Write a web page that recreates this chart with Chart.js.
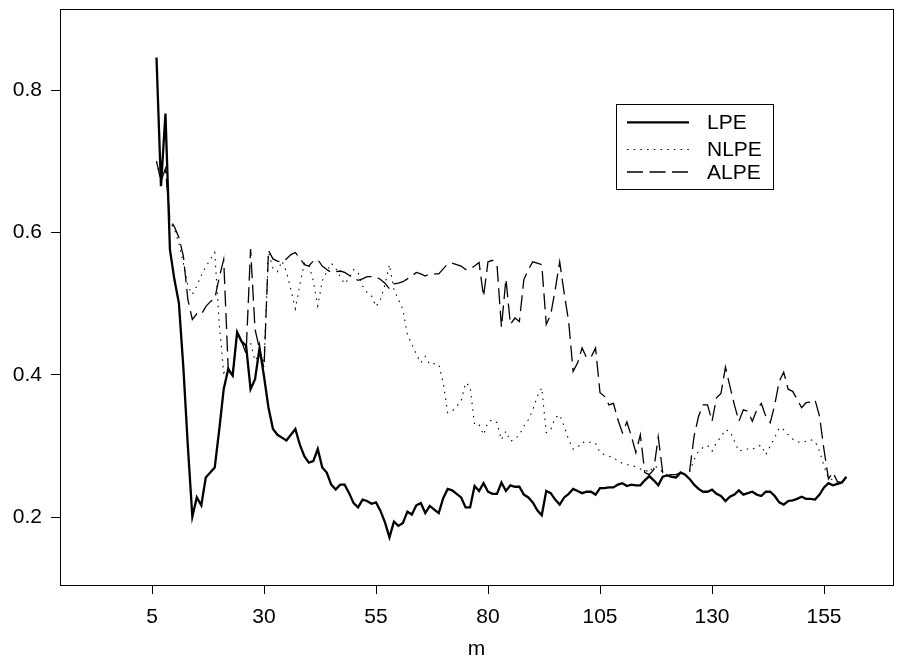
<!DOCTYPE html>
<html>
<head>
<meta charset="utf-8">
<title>LPE / NLPE / ALPE against m</title>
<script src="https://cdn.jsdelivr.net/npm/chart.js@4.4.0/dist/chart.umd.min.js"></script>
<style>
    html, body { margin: 0; padding: 0; background: #fff; }
    #wrap { width: 907px; height: 662px; }
</style>
</head>
<body>
<div id="wrap"><canvas id="errorChart" width="907" height="662"></canvas></div>
<script>
// ============================================================
//  Data
// ============================================================

const mValues = [
      6,   7,   8,   9,  10,  11,  12,  13,  14,  15,  16,  17,  18,  19,  20,  21,  22,  23,  24,  25,  26,  27,  28,  29,  30,
     31,  32,  33,  34,  35,  36,  37,  38,  39,  40,  41,  42,  43,  44,  45,  46,  47,  48,  49,  50,  51,  52,  53,  54,  55,
     56,  57,  58,  59,  60,  61,  62,  63,  64,  65,  66,  67,  68,  69,  70,  71,  72,  73,  74,  75,  76,  77,  78,  79,  80,
     81,  82,  83,  84,  85,  86,  87,  88,  89,  90,  91,  92,  93,  94,  95,  96,  97,  98,  99, 100, 101, 102, 103, 104, 105,
    106, 107, 108, 109, 110, 111, 112, 113, 114, 115, 116, 117, 118, 119, 120, 121, 122, 123, 124, 125, 126, 127, 128, 129, 130,
    131, 132, 133, 134, 135, 136, 137, 138, 139, 140, 141, 142, 143, 144, 145, 146, 147, 148, 149, 150, 151, 152, 153, 154, 155,
    156, 157, 158, 159, 160
];

const lpeValues = [
    0.846, 0.665, 0.767, 0.576, 0.534, 0.501, 0.410, 0.300, 0.201, 0.228,   // m 6-15
    0.217, 0.256, 0.263, 0.270, 0.323, 0.380, 0.408, 0.399, 0.460, 0.447,   // 16-25
    0.441, 0.380, 0.394, 0.438, 0.398, 0.354, 0.324, 0.316, 0.312, 0.308,   // 26-35
    0.316, 0.324, 0.302, 0.286, 0.277, 0.279, 0.296, 0.270, 0.263, 0.246,   // 36-45
    0.239, 0.246, 0.246, 0.234, 0.220, 0.214, 0.225, 0.223, 0.219, 0.221,   // 46-55
    0.209, 0.193, 0.172, 0.194, 0.188, 0.192, 0.208, 0.204, 0.217, 0.220,   // 56-65
    0.206, 0.216, 0.211, 0.206, 0.227, 0.240, 0.238, 0.233, 0.228, 0.214,   // 66-75
    0.214, 0.244, 0.237, 0.248, 0.236, 0.233, 0.233, 0.249, 0.237, 0.245,   // 76-85
    0.243, 0.243, 0.232, 0.228, 0.221, 0.210, 0.203, 0.237, 0.234, 0.225,   // 86-95
    0.218, 0.228, 0.233, 0.240, 0.237, 0.234, 0.236, 0.236, 0.232, 0.241,   // 96-105
    0.241, 0.242, 0.242, 0.246, 0.248, 0.244, 0.246, 0.245, 0.245, 0.252,   // 106-115
    0.258, 0.252, 0.245, 0.257, 0.259, 0.257, 0.256, 0.263, 0.260, 0.254,   // 116-125
    0.246, 0.240, 0.236, 0.236, 0.239, 0.233, 0.230, 0.223, 0.229, 0.232,   // 126-135
    0.238, 0.232, 0.234, 0.236, 0.232, 0.230, 0.236, 0.236, 0.230, 0.221,   // 136-145
    0.218, 0.223, 0.224, 0.226, 0.229, 0.226, 0.226, 0.225, 0.232, 0.242,   // 146-155
    0.248, 0.245, 0.247, 0.249, 0.257                                       // 156-160
];

const nlpeValues = [
    0.700, 0.675, 0.690, 0.615, 0.605, 0.585, 0.557, 0.525, 0.513, 0.525,
    0.540, 0.552, 0.562, 0.572, 0.473, 0.403, 0.410, 0.400, 0.460, 0.447,
    0.441, 0.445, 0.420, 0.430, 0.418, 0.572, 0.550, 0.545, 0.560, 0.545,
    0.520, 0.493, 0.527, 0.557, 0.555, 0.532, 0.497, 0.532, 0.545, 0.557,
    0.550, 0.538, 0.528, 0.536, 0.548, 0.544, 0.525, 0.516, 0.511, 0.496,
    0.506, 0.527, 0.555, 0.520, 0.506, 0.492, 0.457, 0.443, 0.429, 0.417,
    0.426, 0.415, 0.416, 0.415, 0.389, 0.347, 0.349, 0.356, 0.363, 0.389,
    0.384, 0.330, 0.330, 0.316, 0.334, 0.337, 0.333, 0.309, 0.321, 0.307,
    0.310, 0.316, 0.328, 0.337, 0.351, 0.370, 0.382, 0.319, 0.323, 0.340,
    0.344, 0.328, 0.309, 0.296, 0.298, 0.306, 0.304, 0.306, 0.304, 0.291,
    0.288, 0.286, 0.284, 0.279, 0.276, 0.274, 0.273, 0.271, 0.268, 0.267,
    0.263, 0.272, 0.270, 0.263, 0.260, 0.258, 0.257, 0.263, 0.260, 0.264,
    0.281, 0.293, 0.298, 0.301, 0.293, 0.305, 0.313, 0.323, 0.321, 0.307,
    0.293, 0.295, 0.296, 0.295, 0.300, 0.301, 0.288, 0.300, 0.312, 0.326,
    0.323, 0.316, 0.310, 0.306, 0.305, 0.307, 0.309, 0.307, 0.293, 0.272,
    0.254, 0.253, 0.248, 0.249, 0.257
];

const alpeValues = [
    0.700, 0.672, 0.690, 0.618, 0.608, 0.593, 0.567, 0.506, 0.478, 0.486,
    0.485, 0.496, 0.503, 0.507, 0.537, 0.562, 0.410, 0.400, 0.460, 0.447,
    0.430, 0.577, 0.464, 0.436, 0.410, 0.575, 0.563, 0.560, 0.559, 0.563,
    0.569, 0.572, 0.564, 0.555, 0.553, 0.560, 0.562, 0.553, 0.548, 0.544,
    0.545, 0.546, 0.544, 0.540, 0.536, 0.533, 0.535, 0.538, 0.538, 0.538,
    0.534, 0.529, 0.521, 0.528, 0.529, 0.531, 0.535, 0.539, 0.544, 0.542,
    0.539, 0.542, 0.542, 0.542, 0.549, 0.556, 0.557, 0.555, 0.553, 0.548,
    0.549, 0.553, 0.558, 0.510, 0.559, 0.561, 0.555, 0.467, 0.535, 0.471,
    0.480, 0.475, 0.534, 0.548, 0.559, 0.557, 0.555, 0.471, 0.485, 0.520,
    0.559, 0.515, 0.475, 0.405, 0.417, 0.438, 0.424, 0.425, 0.438, 0.375,
    0.370, 0.358, 0.360, 0.337, 0.319, 0.334, 0.314, 0.291, 0.316, 0.263,
    0.260, 0.267, 0.313, 0.263, 0.260, 0.260, 0.260, 0.263, 0.260, 0.265,
    0.314, 0.342, 0.358, 0.358, 0.335, 0.368, 0.374, 0.411, 0.384, 0.358,
    0.335, 0.351, 0.349, 0.335, 0.351, 0.360, 0.342, 0.333, 0.358, 0.391,
    0.404, 0.380, 0.377, 0.366, 0.354, 0.361, 0.362, 0.365, 0.342, 0.295,
    0.254, 0.263, 0.250, 0.249, 0.257
];

const seriesNames = ['LPE', 'NLPE', 'ALPE'];
const xTickValues = [5, 30, 55, 80, 105, 130, 155];
const yTickValues = [0.2, 0.4, 0.6, 0.8];

// ============================================================
//  Chart
// ============================================================

const FONT = '"Liberation Sans", Arial, Helvetica, sans-serif';

const toPoints = (vals) => mValues.map((m, i) => ({ x: m, y: vals[i] }));

// no extra room for half tick labels: the plot box sits where R puts it
const noScalePadding = (axis) => {
    axis.paddingTop = 0;
    axis.paddingBottom = 0;
    axis.paddingLeft = 0;
    axis.paddingRight = 0;
};

// box round the plot region + R-style legend in the top right
const boxAndLegend = {
    id: 'boxAndLegend',
    afterDraw(chart) {
        const { ctx, chartArea: a } = chart;
        ctx.save();
        ctx.strokeStyle = '#000';
        ctx.lineWidth = 1;
        ctx.strokeRect(Math.round(a.left) + 0.5, Math.round(a.top) + 0.5,
                       Math.round(a.right - a.left), Math.round(a.bottom - a.top));

        // legend
        const lx = 616, ly = 104, lw = 157, lh = 85;
        const rows = [122.3, 149.5, 172];
        ctx.fillStyle = '#fff';
        ctx.fillRect(lx, ly, lw, lh);
        ctx.strokeRect(lx + 0.5, ly + 0.5, lw, lh);
        ctx.font = '21px ' + FONT;
        ctx.textBaseline = 'middle';
        ctx.textAlign = 'left';
        chart.data.datasets.forEach((ds, i) => {
            ctx.beginPath();
            ctx.setLineDash(ds.borderDash || []);
            ctx.lineWidth = ds.borderWidth;
            ctx.strokeStyle = ds.borderColor;
            ctx.moveTo(627, rows[i]);
            ctx.lineTo(689, rows[i]);
            ctx.stroke();
            ctx.setLineDash([]);
            ctx.fillStyle = '#000';
            ctx.fillText(ds.label, 707, rows[i] + 1);
        });
        ctx.restore();
    }
};

new Chart(document.getElementById('errorChart').getContext('2d'), {
    type: 'line',
    data: {
        datasets: [
            {
                label: seriesNames[0],
                data: toPoints(lpeValues),
                borderColor: '#000',
                borderWidth: 2.3,
                pointRadius: 0,
                tension: 0,
                fill: false,
            },
            {
                label: seriesNames[1],
                data: toPoints(nlpeValues),
                borderColor: '#000',
                borderWidth: 1.1,
                borderDash: [1.5, 5.2],
                pointRadius: 0,
                tension: 0,
                fill: false,
            },
            {
                label: seriesNames[2],
                data: toPoints(alpeValues),
                borderColor: '#000',
                borderWidth: 1.3,
                borderDash: [16, 6.5],
                pointRadius: 0,
                tension: 0,
                fill: false,
            }
        ]
    },
    options: {
        responsive: false,
        animation: false,
        devicePixelRatio: 1,
        layout: { padding: { left: 0, top: 9, right: 14, bottom: 0 } },
        plugins: {
            legend: { display: false },
            tooltip: { enabled: false }
        },
        scales: {
            x: {
                type: 'linear',
                min: -15.54,
                max: 170.4,
                afterBuildTicks: (axis) => { axis.ticks = xTickValues.map(v => ({ value: v })); },
                afterFit: (axis) => { axis.height = 77; noScalePadding(axis); },
                border: { display: false },
                grid: { drawOnChartArea: false, drawTicks: true, tickLength: 9, color: '#000' },
                ticks: {
                    color: '#000',
                    font: { family: FONT, size: 21 },
                    padding: 11,
                    maxRotation: 0,
                    autoSkip: false,
                    callback: (v) => String(v)
                },
                title: {
                    display: true,
                    text: 'm',
                    color: '#000',
                    font: { family: FONT, size: 21 },
                    padding: { top: 0, bottom: 0 }
                }
            },
            y: {
                type: 'linear',
                min: 0.105,
                max: 0.914,
                afterBuildTicks: (axis) => { axis.ticks = yTickValues.map(v => ({ value: v })); },
                afterFit: (axis) => { axis.width = 60; noScalePadding(axis); },
                border: { display: false },
                grid: { drawOnChartArea: false, drawTicks: true, tickLength: 9, color: '#000' },
                ticks: {
                    color: '#000',
                    font: { family: FONT, size: 21 },
                    padding: 9,
                    autoSkip: false,
                    callback: (v) => v.toFixed(1)
                }
            }
        }
    },
    plugins: [boxAndLegend]
});
</script>
</body>
</html>
